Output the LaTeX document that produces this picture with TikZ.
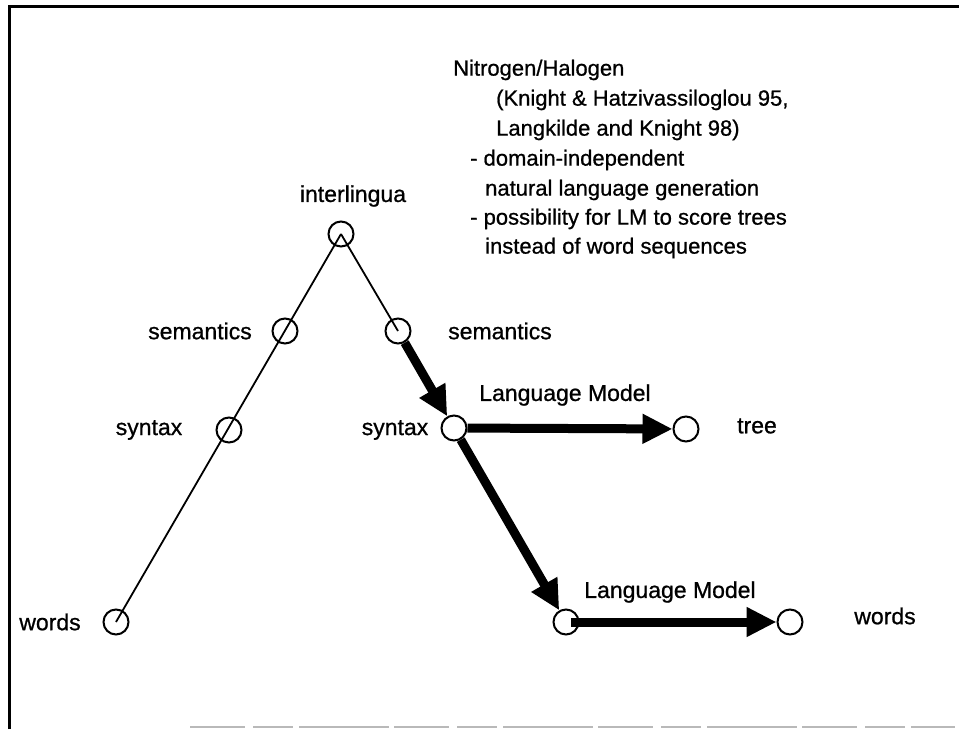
\documentclass[tikz,border=0pt]{standalone}
\usepackage{fontspec}
\setmainfont[FakeBold=0.8]{Liberation Sans}
\usetikzlibrary{arrows.meta}
\begin{document}
\begin{tikzpicture}[x=1pt,y=-1pt,
  st/.style={circle,draw,line width=2pt,minimum size=25pt,inner sep=0pt},
  lbl/.style={font=\fontsize{23}{27}\selectfont,inner sep=0pt},
  blk/.style={font=\fontsize{22}{26}\selectfont,inner sep=0pt,anchor=mid west},
  thinline/.style={line width=1.8pt},
  thickarrow/.style={line width=9pt,-{Triangle[length=30pt,width=28pt]}},
]
\useasboundingbox (0,0) rectangle (959,729);
% frame
\draw[line width=3pt] (9,729) -- (9,6) -- (959,6);
\draw[gray!55, line width=1.5pt, dash pattern=on 55pt off 8pt on 40pt off 6pt on 90pt off 5pt]
  (190,727) -- (955,727);
% states
\node[st] (inter) at (341,234) {};
\node[st] (lsem)  at (285,331) {};
\node[st] (lsyn)  at (229,430) {};
\node[st] (lwrd)  at (116,622) {};
\node[st] (rsem)  at (398,331) {};
\node[st] (rsyn)  at (454,428) {};
\node[st] (tree)  at (686,429) {};
\node[st] (bot)   at (566,622) {};
\node[st] (rwrd)  at (790,622) {};
% labels
\node[lbl] (linter) at (353,196) {interlingua};
\node[lbl] (llsem)  at (200,331) {semantics};
\node[lbl] (llsyn)  at (149,430) {syntax};
\node[lbl] (llwrd)  at (50,622)  {words};
\node[lbl] (lrsem)  at (500,331) {semantics};
\node[lbl] (lrsyn)  at (395,430) {syntax};
\node[lbl] (lm1)    at (565,395) {Language Model};
\node[lbl] (ltree)  at (757,426) {tree};
\node[lbl] (lm2)    at (670,592) {Language Model};
\node[lbl] (lrwrd)  at (885,616) {words};
% text block
\node[blk] (t1) at (453,73)  {Nitrogen/Halogen};
\node[blk] (t2) at (496,103) {(Knight \& Hatzivassiloglou 95,};
\node[blk] (t3) at (496,133) {Langkilde and Knight 98)};
\node[blk] (t4) at (470,163) {- domain-independent};
\node[blk] (t5) at (485,193) {natural language generation};
\node[blk] (t6) at (470,222) {- possibility for LM to score trees};
\node[blk] (t7) at (485,251) {instead of word sequences};
% thin connectors
\draw[thinline] (inter.center) -- (lwrd.center);
\draw[thinline] (inter.center) -- (rsem.center);
% thick arrows
\draw[thickarrow] (rsem) -- (rsyn);
\draw[thickarrow] (rsyn) -- (tree);
\draw[thickarrow] (rsyn) -- (bot);
\draw[thickarrow] ([xshift=5pt]bot.center) -- (rwrd);
\end{tikzpicture}
\end{document}
